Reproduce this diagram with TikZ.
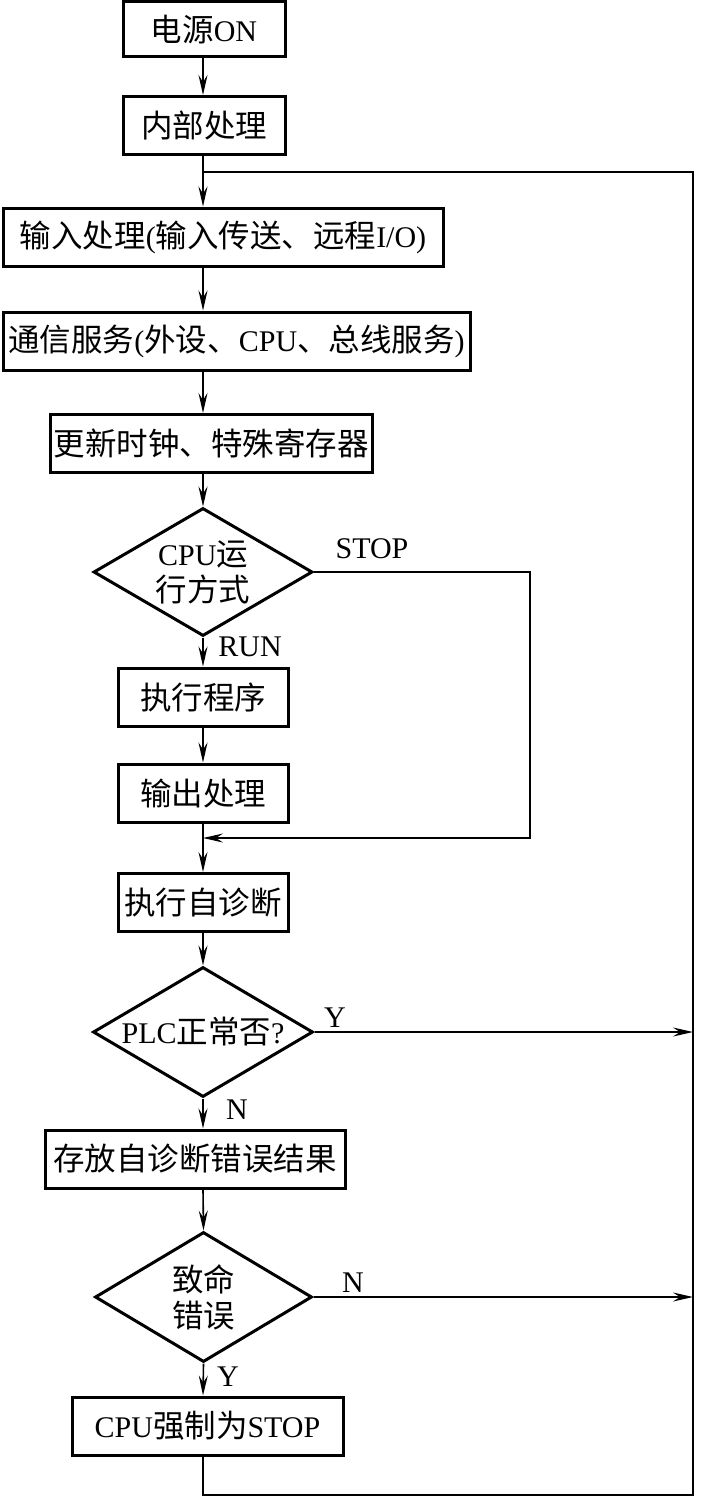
\documentclass[tikz,border=0pt]{standalone}
\usepackage{fontspec}
\setmainfont{Liberation Serif}
\newfontfamily\cjk{Noto Sans CJK SC}
\newcommand\zh[1]{{\cjk\fontsize{31.5pt}{36pt}\selectfont #1}}
\usetikzlibrary{shapes.geometric,arrows.meta}
\begin{document}
\begin{tikzpicture}[x=1pt,y=-1pt,
  font=\fontsize{30pt}{36pt}\selectfont,
  box/.style={draw, line width=3pt, minimum height=58pt, inner sep=0pt},
  dia/.style={draw, diamond, line width=3pt, inner sep=0pt, aspect=1.7, align=center},
  arr/.style={line width=1.6pt, -{Stealth[length=20pt,width=9pt,inset=7pt]}},
  ln/.style={line width=1.3pt},
  lbl/.style={inner sep=0pt}]
\useasboundingbox (0,0) rectangle (703,1498);
\coordinate (s) at (203,0);
\coordinate (R) at (693,0);
\coordinate (sx) at (530,0);
\coordinate (m1) at (203,838);
\coordinate (lt) at (203,172);
\coordinate (lb) at (203,1495);

\node[box, minimum width=162pt, minimum height=55pt] (b1) at (204,29.5) {\zh{电源}ON};
\node[box, minimum width=162pt] (b2) at (204,125.5) {\zh{内部处理}};
\node[box, minimum width=440pt] (b3) at (223,237) {\zh{输入处理}(\zh{输入传送、远程}I/O)};
\node[box, minimum width=467pt] (b4) at (236.5,341) {\zh{通信服务}(\zh{外设、}CPU\zh{、总线服务})};
\node[box, minimum width=322pt] (b5) at (211,443.5) {\zh{更新时钟、特殊寄存器}};
\node[dia, minimum width=219pt, minimum height=128pt] (d1) at (203,572) {CPU\zh{运}\\\zh{行方式}};
\node[box, minimum width=170pt] (b6) at (203,697) {\zh{执行程序}};
\node[box, minimum width=170pt] (b7) at (203,793) {\zh{输出处理}};
\node[box, minimum width=170pt] (b8) at (203,902.5) {\zh{执行自诊断}};
\node[dia, minimum width=220pt, minimum height=130pt] (d2) at (203,1032) {PLC\zh{正常否}?};
\node[box, minimum width=300pt] (b9) at (195,1159) {\zh{存放自诊断错误结果}};
\node[dia, minimum width=217pt, minimum height=130pt] (d3) at (203.5,1297) {\zh{致命}\\\zh{错误}};
\node[box, minimum width=271pt] (b10) at (207.5,1426) {CPU\zh{强制为}STOP};

\node[lbl] (lstop) at (372,549) {STOP};
\node[lbl] (lrun) at (250,647) {RUN};
\node[lbl] (ly1) at (335,1018) {Y};
\node[lbl] (ln1) at (237,1110) {N};
\node[lbl] (ln2) at (353,1283) {N};
\node[lbl] (ly2) at (228,1377) {Y};

\draw[arr] (b1.south -| s) -- (b2.north -| s);
\draw[arr] (b2.south -| s) -- (b3.north -| s);
\draw[arr] (b3.south -| s) -- (b4.north -| s);
\draw[arr] (b4.south -| s) -- (b5.north -| s);
\draw[arr] (b5.south -| s) -- (d1.north);
\draw[arr] (d1.south) -- (b6.north);
\draw[arr] (b6.south) -- (b7.north);
\draw[arr] (b7.south) -- (b8.north);
\draw[arr] (d1.east) -- (d1.east -| sx) |- (m1);
\draw[arr] (b8.south) -- (d2.north);
\draw[arr] (d2.south) -- (b9.north -| s);
\draw[arr] (b9.south -| s) -- (d3.north);
\draw[arr] (d3.south) -- (b10.north -| s);
\draw[arr] (d2.east) -- (d2.east -| R);
\draw[arr] (d3.east) -- (d3.east -| R);
\draw[ln] (b10.south -| s) -- (lb) -| (R |- lt) -- (lt);
\end{tikzpicture}
\end{document}
